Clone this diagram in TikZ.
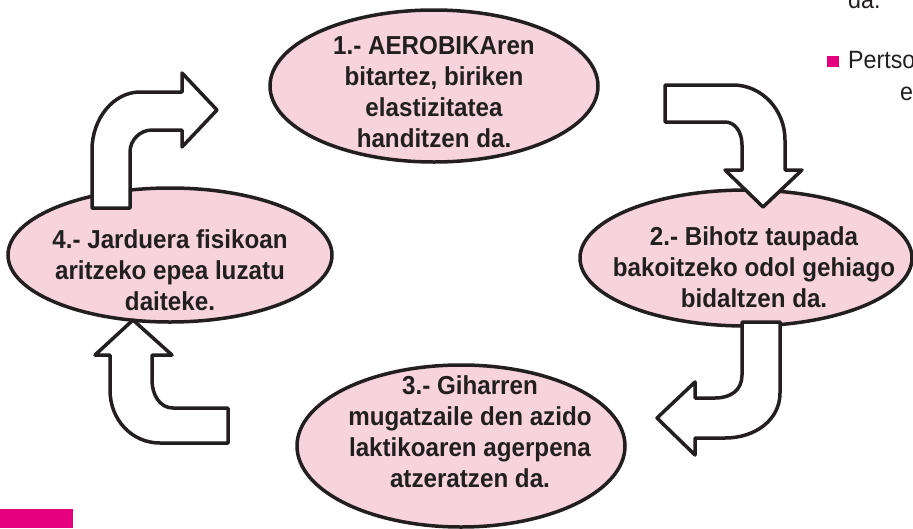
\documentclass[tikz,border=0pt]{standalone}
\usepackage{fontspec}
\setmainfont[FakeStretch=0.93]{Liberation Sans}
\usetikzlibrary{shapes.geometric}
\definecolor{bubblepink}{RGB}{246,211,221}
\definecolor{bulletpink}{RGB}{230,0,126}
\definecolor{inkgrey}{RGB}{35,31,32}

\begin{document}
\begin{tikzpicture}[x=1pt,y=-1pt,
    bubble/.style ={ellipse, draw=inkgrey, line width=3.5pt, fill=bubblepink, inner sep=0pt},
    bubbletext/.style ={align=center, inner sep=0pt, text=inkgrey, font=\fontsize{26}{31}\selectfont\bfseries},
    sidetext/.style ={anchor=base west, inner sep=0pt, text=inkgrey, font=\fontsize{25}{30}\selectfont},
    bentarrow/.style ={draw=inkgrey, fill=white, line width=3.5pt, line join=round}]
   \useasboundingbox (0,0) rectangle (913,528);
   % the four bubbles
   \node[bubble, minimum width=328pt, minimum height=152pt] (e1) at (434,86)  {};
   \node[bubble, minimum width=332pt, minimum height=136pt] (e2) at (746,258) {};
   \node[bubble, minimum width=328pt, minimum height=162pt] (e3) at (461,446) {};
   \node[bubble, minimum width=324pt, minimum height=134pt] (e4) at (170,255) {};
   \node[bubbletext] (t1) at (434,92)  {1.- AEROBIKAren\\bitartez, biriken\\elastizitatea\\handitzen da.};
   \node[bubbletext] (t2) at (754,267) {2.- Bihotz taupada\\bakoitzeko odol gehiago\\bidaltzen da.};
   \node[bubbletext] (t3) at (470,432) {3.- Giharren\\mugatzaile den azido\\laktikoaren agerpena\\atzeratzen da.};
   \node[bubbletext] (t4) at (170,270) {4.- Jarduera fisikoan\\aritzeko epea luzatu\\daiteke.};
   % bent arrows
   \draw[bentarrow] (92,208) -- (92,150) .. controls (92,118) and (114,92) .. (140,92) -- (182,92)
      -- (182,73) -- (217,110) -- (182,147) -- (182,130) -- (152,130)
      .. controls (140,130) and (130,140) .. (130,152) -- (130,208) -- cycle;
   \draw[bentarrow] (665,85) -- (733,85) .. controls (762,85) and (785,110) .. (785,140) -- (785,170)
      -- (802,170) -- (763,207) -- (725,170) -- (742,170) -- (742,145)
      .. controls (742,132) and (735,122) .. (725,122) -- (665,122) -- cycle;
   \draw[bentarrow] (780,322) -- (780,393) .. controls (780,420) and (755,438) .. (725,438) -- (695,438)
      -- (695,455) -- (657,418) -- (695,382) -- (695,398) -- (715,398)
      .. controls (731,398) and (742,390) .. (742,375) -- (742,322) -- cycle;
   \draw[bentarrow] (228,443) -- (160,443) .. controls (132,443) and (110,420) .. (110,390) -- (110,355)
      -- (95,355) -- (133,320) -- (172,355) -- (152,355) -- (152,380)
      .. controls (152,395) and (160,408) .. (173,408) -- (228,408) -- cycle;
   % cut-off text on the right, pink marks
   \node[sidetext] (s1) at (848,8)   {da.};
   \node[sidetext] (s2) at (848,68)  {Pertso};
   \node[sidetext] (s3) at (900,100) {e};
   \fill[bulletpink] (827,56) rectangle (839,67);
   \fill[bulletpink] (0,509) rectangle (73,528);
\end{tikzpicture}
\end{document}
